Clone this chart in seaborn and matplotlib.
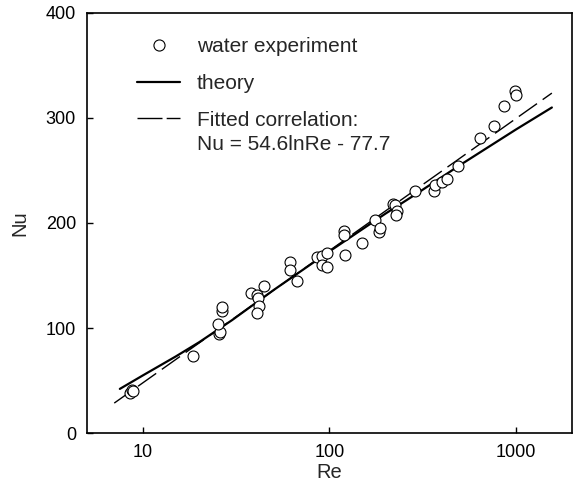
import numpy as np
import pandas as pd
import seaborn as sns
import matplotlib
matplotlib.use("Agg")
import matplotlib.pyplot as plt
from matplotlib.lines import Line2D
from matplotlib.ticker import FixedLocator, FixedFormatter, NullLocator

# ---- data ----
exp_re = [8.5, 8.7, 8.8, 18.5, 25.5, 26.0, 25.2, 26.5, 26.5,
          38.1, 40.8, 41.5, 44.4, 41.6, 40.8, 61.7, 61.7, 67.0,
          85.7, 91.2, 97.0, 91.2, 97.0, 119.0, 119.0, 121.6, 149.0,
          176.0, 184.0, 187.0, 220.0, 225.0, 230.0, 228.0, 288.0,
          362.0, 370.0, 401.0, 427.0, 490.0, 645.0, 762.0, 859.0, 993.0, 1000.0]
exp_nu = [38, 41, 40, 73, 94, 96, 104, 116, 120,
          133, 131, 129, 140, 121, 114, 163, 155, 145,
          168, 169, 171, 160, 158, 192, 189, 170, 181,
          203, 191, 195, 218, 217, 211, 208, 230,
          230, 236, 239, 242, 254, 281, 292, 311, 326, 322]

theory_re = [7.5, 10, 15, 20, 30, 50, 100, 200, 300, 500, 1000, 1560]
theory_nu = [42, 55, 73, 86.5, 107.5, 136, 173, 209, 229, 255, 289, 310]

fit_re = [7.0, 1560]
fit_nu = [28.5, 323.7]

x_ticks = [10, 100, 1000]
x_ticklabels = ["10", "100", "1000"]
y_ticks = [0, 100, 200, 300, 400]

sns.set_style("white")
plt.rcParams['font.family'] = ['Liberation Sans', 'DejaVu Sans']

fig = plt.figure(figsize=(5.77, 4.92), dpi=100)
ax = fig.add_axes([0.1508, 0.1199, 0.8405, 0.8537])

df_exp = pd.DataFrame({"Re": exp_re, "Nu": exp_nu})
df_th = pd.DataFrame({"Re": theory_re, "Nu": theory_nu})
df_fit = pd.DataFrame({"Re": fit_re, "Nu": fit_nu})

sns.lineplot(data=df_fit, x="Re", y="Nu", ax=ax, color="black", lw=1.0,
             dashes=False, sort=False, zorder=2)
ax.lines[-1].set_dashes([16, 5])
sns.lineplot(data=df_th, x="Re", y="Nu", ax=ax, color="black", lw=1.6,
             sort=False, zorder=3)
sns.scatterplot(data=df_exp, x="Re", y="Nu", ax=ax, marker="o", s=62,
                facecolor="white", edgecolor="black", linewidth=0.8, zorder=4)

ax.set_xscale("log")
ax.set_xlim(5, 2000)
ax.set_ylim(0, 400)
ax.xaxis.set_major_locator(FixedLocator(x_ticks))
ax.xaxis.set_major_formatter(FixedFormatter(x_ticklabels))
ax.xaxis.set_minor_locator(NullLocator())
ax.set_yticks(y_ticks)

for s in ax.spines.values():
    s.set_color("black")
    s.set_linewidth(1.2)
ax.tick_params(axis="both", direction="in", length=4, width=1, labelsize=13,
               colors="black", bottom=True, left=True, top=False, right=False,
               pad=8)

ax.set_xlabel("Re", fontsize=14.5, labelpad=1)
ax.set_ylabel("Nu", fontsize=14.5, labelpad=12)

handles = [
    Line2D([], [], marker="o", ls="none", markersize=8, markerfacecolor="white",
           markeredgecolor="black", markeredgewidth=0.8),
    Line2D([], [], color="black", lw=1.6),
    Line2D([], [], color="black", lw=1.0, dashes=[18, 3]),
]
labels = ["water experiment", "theory", "Fitted correlation:"]
leg = ax.legend(handles, labels, loc="upper left", bbox_to_anchor=(0.103, 0.943),
                frameon=False, fontsize=15, handlelength=2.07, handletextpad=0.8,
                labelspacing=0.86, borderpad=0, borderaxespad=0)
ax.text(0.2268, 0.688, "Nu = 54.6lnRe - 77.7", transform=ax.transAxes,
        fontsize=15, va="center", ha="left")

fig.savefig("out.png", dpi=100)
